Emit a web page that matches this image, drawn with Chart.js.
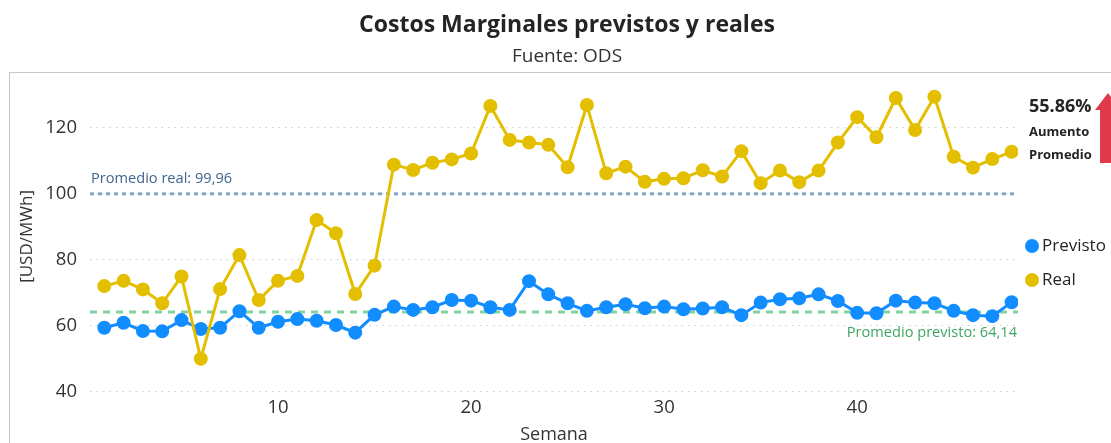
<!DOCTYPE html>
<html>
<head>
<meta charset="utf-8">
<title>Costos Marginales previstos y reales</title>
<script src="https://cdn.jsdelivr.net/npm/chart.js@4.4.1/dist/chart.umd.min.js"></script>
<style>
  html, body { margin: 0; padding: 0; background: #ffffff; }
  #costChart { display: block; }
</style>
</head>
<body>
<canvas id="costChart" width="1111" height="443"></canvas>
<script>
// Weekly marginal costs, USD/MWh
const weeks = [1, 2, 3, 4, 5, 6, 7, 8, 9, 10, 11, 12, 13, 14, 15, 16, 17, 18, 19, 20, 21, 22, 23, 24,
  25, 26, 27, 28, 29, 30, 31, 32, 33, 34, 35, 36, 37, 38, 39, 40, 41, 42, 43, 44, 45, 46, 47, 48];
const previsto = [59.4, 60.9, 58.4, 58.3, 61.7, 59.0, 59.4, 64.4, 59.4, 61.2, 62.0, 61.5, 60.2, 57.9, 63.3, 65.8,
  64.8, 65.6, 67.8, 67.6, 65.6, 64.8, 73.5, 69.5, 66.8, 64.5, 65.6, 66.5, 65.3, 65.8, 65.0, 65.2,
  65.6, 63.2, 67.0, 68.0, 68.3, 69.5, 67.5, 63.9, 63.8, 67.6, 67.0, 66.8, 64.5, 63.2, 62.9, 67.1];
const real = [72.0, 73.6, 71.0, 66.8, 74.9, 50.0, 71.1, 81.4, 67.8, 73.6, 75.1, 92.0, 88.0, 69.6, 78.2, 108.8,
  107.2, 109.4, 110.4, 112.2, 126.6, 116.3, 115.5, 114.8, 108.0, 126.9, 106.2, 108.2, 103.6, 104.5, 104.7, 107.1,
  105.2, 112.9, 103.2, 107.0, 103.5, 107.0, 115.5, 123.2, 117.1, 129.0, 119.3, 129.4, 111.2, 107.9, 110.5, 112.7];
const promedioReal = 99.96;
const promedioPrevisto = 64.14;
const aumentoPromedio = '55.86%';
const xTicks = [10, 20, 30, 40];
const yTicks = [40, 60, 80, 100, 120];

const colorPrevisto = '#118DFF';
const colorReal = '#E3BF00';
const textColor = '#333333';

Chart.defaults.font.family = "'Segoe UI', 'Open Sans', 'Noto Sans', sans-serif";
Chart.defaults.color = textColor;

const fmt = v => v.toFixed(2).replace('.', ',');

// frame, average lines, custom legend and the increase note
const extras = {
  id: 'extras',
  beforeDraw(chart) {
    const c = chart.ctx;
    c.save();
    c.strokeStyle = '#c8c8c8';
    c.lineWidth = 1;
    c.strokeRect(9.5, 72.5, chart.width, chart.height);
    c.restore();
  },
  beforeDatasetsDraw(chart) {
    const { ctx: c, chartArea: a, scales: { y } } = chart;
    const yr = y.getPixelForValue(promedioReal);
    const yp = y.getPixelForValue(promedioPrevisto);
    c.save();
    c.lineWidth = 3;
    c.strokeStyle = '#7FA6CB';
    c.setLineDash([4, 4]);
    c.beginPath();
    c.moveTo(a.left, yr);
    c.lineTo(a.right, yr);
    c.stroke();
    c.strokeStyle = '#82D3A2';
    c.setLineDash([7, 6]);
    c.beginPath();
    c.moveTo(a.left, yp);
    c.lineTo(a.right, yp);
    c.stroke();
    c.restore();
  },
  afterDraw(chart) {
    const { ctx: c, chartArea: a, scales: { y } } = chart;
    const yr = y.getPixelForValue(promedioReal);
    const yp = y.getPixelForValue(promedioPrevisto);
    const fam = Chart.defaults.font.family;
    c.save();
    c.textBaseline = 'middle';

    // average labels
    c.font = '14.6px ' + fam;
    c.fillStyle = '#41658E';
    c.textAlign = 'left';
    c.fillText('Promedio real: ' + fmt(promedioReal), a.left + 1, yr - 15);
    c.fillStyle = '#3FA663';
    c.textAlign = 'right';
    c.fillText('Promedio previsto: ' + fmt(promedioPrevisto), a.right - 1, yp + 21);

    // legend
    const lx = a.right + 14;
    [['Previsto', colorPrevisto, 246], ['Real', colorReal, 280]].forEach(([name, col, ly]) => {
      c.fillStyle = col;
      c.beginPath();
      c.arc(lx, ly, 7, 0, Math.PI * 2);
      c.fill();
      c.fillStyle = '#252423';
      c.textAlign = 'left';
      c.font = '17px ' + fam;
      c.fillText(name, lx + 10, ly);
    });

    // increase note
    const nx = a.right + 11;
    c.fillStyle = '#252423';
    c.font = 'bold 18px ' + fam;
    c.fillText(aumentoPromedio, nx, 107);
    c.font = 'bold 13px ' + fam;
    c.fillText('Aumento', nx, 132);
    c.fillText('Promedio', nx, 155);

    // red arrow, partly cut by the right edge
    const ax = 1108;
    c.fillStyle = '#DF3A4B';
    c.beginPath();
    c.moveTo(ax, 93);
    c.lineTo(ax + 13, 110);
    c.lineTo(ax + 8, 110);
    c.lineTo(ax + 8, 163);
    c.lineTo(ax - 8, 163);
    c.lineTo(ax - 8, 110);
    c.lineTo(ax - 13, 110);
    c.closePath();
    c.fill();
    c.restore();
  }
};

new Chart(document.getElementById('costChart'), {
  type: 'line',
  data: {
    labels: weeks,
    datasets: [
      {
        label: 'Real',
        data: weeks.map((w, i) => ({ x: w, y: real[i] })),
        borderColor: colorReal,
        backgroundColor: colorReal,
        borderWidth: 3,
        pointRadius: 5.5,
        pointHoverRadius: 5.5,
        tension: 0,
        yAxisID: 'y',
        order: 0
      },
      {
        label: 'Previsto',
        data: weeks.map((w, i) => ({ x: w, y: previsto[i] })),
        borderColor: colorPrevisto,
        backgroundColor: colorPrevisto,
        borderWidth: 3,
        pointRadius: 5.5,
        pointHoverRadius: 5.5,
        tension: 0,
        yAxisID: 'y',
        order: 1
      }
    ]
  },
  options: {
    responsive: false,
    animation: false,
    layout: { padding: { left: 23, right: 0, top: 0, bottom: 0 } },
    plugins: {
      legend: { display: false },
      tooltip: { enabled: false },
      title: {
        display: true,
        text: 'Costos Marginales previstos y reales',
        color: '#252423',
        font: { size: 23, weight: 'bold' },
        padding: { top: 12, bottom: 4 }
      },
      subtitle: {
        display: true,
        text: 'Fuente: ODS',
        color: textColor,
        font: { size: 19 },
        padding: { top: 2, bottom: 6.5 }
      }
    },
    scales: {
      x: {
        type: 'linear',
        min: 0.26,
        max: 48.33,
        grid: { display: false, drawTicks: false },
        border: { display: false },
        ticks: { font: { size: 18.5 }, color: textColor, padding: -1 },
        afterBuildTicks: axis => { axis.ticks = xTicks.map(v => ({ value: v })); },
        afterFit: axis => { axis.height = 45; },
        title: {
          display: true,
          text: 'Semana',
          color: textColor,
          font: { size: 18 },
          padding: { top: 4, bottom: -3 }
        }
      },
      y: {
        min: 38.1,
        max: 136,
        grid: { color: '#cfcfcf', lineWidth: 1, drawTicks: false },
        border: { display: false, dash: [1.5, 5] },
        ticks: { font: { size: 18.5 }, color: textColor, padding: 13 },
        afterBuildTicks: axis => { axis.ticks = yTicks.map(v => ({ value: v })); },
        afterFit: axis => { axis.width = 67; },
        title: {
          display: true,
          text: '[USD/MWh]',
          color: textColor,
          font: { size: 17 },
          padding: { top: -6, bottom: 0 }
        }
      },
      yRight: {
        position: 'right',
        grid: { display: false, drawTicks: false },
        border: { display: false },
        ticks: { display: false },
        afterFit: axis => { axis.width = 93; }
      }
    }
  },
  plugins: [extras]
});
</script>
</body>
</html>
